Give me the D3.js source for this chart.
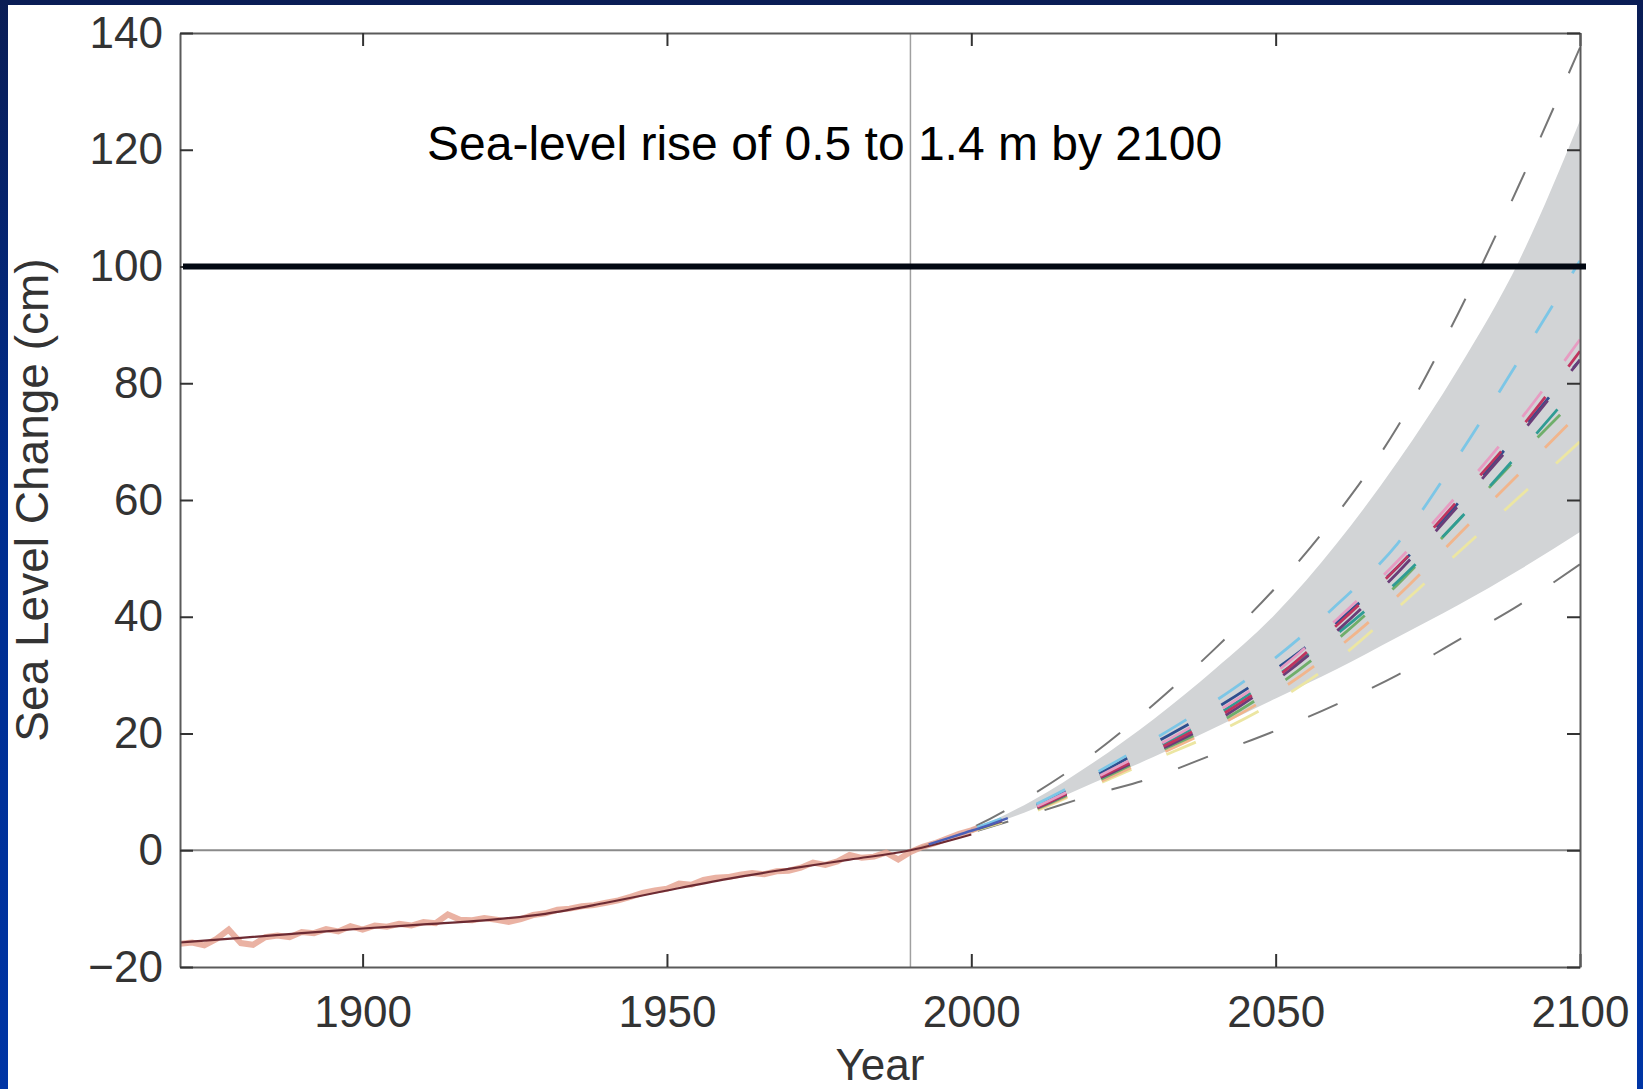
<!DOCTYPE html>
<html>
<head>
<meta charset="utf-8">
<script src="https://cdn.jsdelivr.net/npm/d3@7"></script>
<style>
  body { margin: 0; background: #0030a0; }
  svg { display: block; }
  text { font-family: "Liberation Sans", Arial, Helvetica, sans-serif; }
</style>
</head>
<body>
<svg id="chart" width="1643" height="1089"></svg>
<script>
// ---------- data ----------
const projYears  = [1990, 2000, 2010, 2020, 2030, 2040, 2050, 2060, 2070, 2080, 2090, 2100];
const bandUpper  = [0, 3.5, 8.5, 15, 22.5, 31, 40.5, 52.5, 66.5, 82.5, 101, 125];
const bandLower  = [0, 3.2, 7.0, 11.5, 16, 21, 26, 31, 36.5, 42, 48, 54.5];
const outerUpper = [0, 3.8, 9.5, 16.5, 25, 34.5, 45, 57.5, 72.5, 92, 114, 137.5];
const outerLower = [0, 3.0, 6.2, 9.5, 12.5, 16.5, 20.5, 25, 30, 36, 42, 49];

// scenario projections (cm)
const scenYears = [2000, 2010, 2020, 2030, 2040, 2050, 2060, 2070, 2080, 2090, 2100];
const scenCyan     = [3.6, 7.6, 13, 19, 25.5, 33, 42, 52.5, 67.5, 84, 101];
const scenDarkBlue = [3.5, 7.4, 12.6, 18.3, 24.2, 31, 39, 48.5, 59.5, 71.5, 84];
const scenPink     = [3.5, 7.2, 12.2, 17.6, 23.5, 30.5, 39.5, 49.5, 61, 73.5, 87.5];
const scenCrimson  = [3.5, 7.0, 12, 17, 22.5, 29.5, 38.5, 48.5, 60, 72, 85.5];
const scenPurple   = [3.4, 6.9, 11.8, 16.7, 22, 29, 37.5, 47.5, 59, 71, 84];
const scenTeal     = [3.4, 7.1, 12.2, 17.4, 23, 29.8, 37, 46, 56.5, 68, 80];
const scenGreen    = [3.3, 6.8, 11.5, 16.5, 21.5, 28, 36, 45.5, 56.5, 67.5, 78];
const scenOrange   = [3.3, 6.7, 11.2, 16, 21, 27, 34.5, 43.5, 54, 64.5, 75];
const scenYellow   = [3.2, 6.5, 11, 15.5, 20, 25.5, 32.5, 41.5, 51, 60.5, 70];

// observed sea level (tide gauges), cm
const obsYears = [1870,1872,1874,1876,1878,1880,1882,1884,1886,1888,1890,1892,1894,1896,1898,
  1900,1902,1904,1906,1908,1910,1912,1914,1916,1918,1920,1922,1924,1926,1928,1930,1932,1934,1936,1938,
  1940,1942,1944,1946,1948,1950,1952,1954,1956,1958,1960,1962,1964,1966,1968,1970,1972,1974,1976,1978,
  1980,1982,1984,1986,1988,1990,1992,1994,1996,1998,2000,2001];
const obsValues = [-16.0,-15.8,-16.3,-15.2,-13.6,-15.9,-16.2,-14.9,-14.6,-14.9,-14.0,-14.2,-13.5,-13.9,-13.0,
  -13.6,-12.9,-13.1,-12.6,-12.9,-12.3,-12.5,-11.0,-11.9,-12.0,-11.6,-11.9,-12.3,-11.8,-11.1,-10.8,-10.2,-10.0,-9.6,-9.4,
  -9.0,-8.6,-8.0,-7.3,-6.9,-6.6,-5.7,-5.9,-5.1,-4.7,-4.6,-4.2,-3.9,-4.1,-3.6,-3.5,-3.0,-2.1,-2.5,-1.9,
  -0.8,-1.3,-1.1,-0.4,-1.6,-0.3,0.6,1.2,2.0,2.8,3.4,3.8];

// smoothed record
const smoothYears  = [1870, 1880, 1890, 1900, 1910, 1920, 1930, 1940, 1950, 1960, 1970, 1980, 1990, 2000];
const smoothValues = [-15.8, -15.0, -14.2, -13.4, -12.7, -12.0, -10.9, -9.0, -6.9, -4.9, -3.2, -1.6, 0, 2.7];

// satellite altimetry
const satYears  = [1993, 1996, 1999, 2002, 2006];
const satValues = [1.0, 2.0, 3.0, 4.0, 5.5];

const xTicks = [1900, 1950, 2000, 2050, 2100];
const yTicks = [-20, 0, 20, 40, 60, 80, 100, 120, 140];
const limitLevel = 100;
const baseYear = 1990;

// ---------- drawing ----------
const svg = d3.select('#chart');
const W = 1643, H = 1089;

const defs = svg.append('defs');
const grad = defs.append('linearGradient').attr('id', 'bg').attr('x1', 0).attr('y1', 0).attr('x2', 0).attr('y2', 1);
grad.append('stop').attr('offset', '0%').attr('stop-color', '#0a1d55');
grad.append('stop').attr('offset', '45%').attr('stop-color', '#002d8e');
grad.append('stop').attr('offset', '100%').attr('stop-color', '#0035a5');

svg.append('rect').attr('width', W).attr('height', H).attr('fill', 'url(#bg)');
svg.append('rect').attr('x', 8).attr('y', 5).attr('width', 1629).attr('height', H - 5).attr('fill', '#fff');

const x = d3.scaleLinear().domain([1870, 2100]).range([180, 1580]);
const y = d3.scaleLinear().domain([-20, 140]).range([967, 33]);

defs.append('clipPath').attr('id', 'plot')
  .append('rect').attr('x', x(1870)).attr('y', y(140))
  .attr('width', x(2100) - x(1870)).attr('height', y(-20) - y(140));

const plot = svg.append('g').attr('clip-path', 'url(#plot)');

// projection band
const area = d3.area()
  .x((d, i) => x(projYears[i]))
  .y0((d, i) => y(bandLower[i]))
  .y1(d => y(d))
  .curve(d3.curveMonotoneX);
plot.append('path').datum(bandUpper).attr('d', area).attr('fill', '#d2d4d6');

const line = (xs) => d3.line().x((d, i) => x(xs[i])).y(d => y(d)).curve(d3.curveMonotoneX);

// outer dashed bounds
[outerUpper, outerLower].forEach(s => {
  plot.append('path').datum(s).attr('d', line(projYears))
    .attr('fill', 'none').attr('stroke', '#767676').attr('stroke-width', 2)
    .attr('stroke-dasharray', '32 38');
});

// scenario projections
const scenarios = [
  { values: scenYellow,   color: '#ece6a2' },
  { values: scenOrange,   color: '#f1b58c' },
  { values: scenGreen,    color: '#6fae6a' },
  { values: scenTeal,     color: '#2f9c94' },
  { values: scenDarkBlue, color: '#2f4f8f' },
  { values: scenPurple,   color: '#6a3d78' },
  { values: scenCrimson,  color: '#c0345f' },
  { values: scenPink,     color: '#e79cc2' },
  { values: scenCyan,     color: '#7cc6e6' }
];
scenarios.forEach(s => {
  plot.append('path').datum(s.values).attr('d', line(scenYears))
    .attr('fill', 'none').attr('stroke', s.color).attr('stroke-width', 2.8)
    .attr('stroke-dasharray', '32 38');
});

// reference lines
plot.append('line').attr('x1', x(1870)).attr('x2', x(2100)).attr('y1', y(0)).attr('y2', y(0))
  .attr('stroke', '#8a8a8a').attr('stroke-width', 2);
plot.append('line').attr('x1', x(baseYear)).attr('x2', x(baseYear)).attr('y1', y(-20)).attr('y2', y(140))
  .attr('stroke', '#a0a0a0').attr('stroke-width', 1.5);

// observations
plot.append('path').datum(obsValues).attr('d', line(obsYears).curve(d3.curveLinear))
  .attr('fill', 'none').attr('stroke', '#e6a493').attr('stroke-width', 6).attr('opacity', 0.85);
plot.append('path').datum(smoothValues).attr('d', line(smoothYears))
  .attr('fill', 'none').attr('stroke', '#6d2b33').attr('stroke-width', 2.2);
plot.append('path').datum(satValues).attr('d', line(satYears))
  .attr('fill', 'none').attr('stroke', '#4a5fb8').attr('stroke-width', 2.5);

// axes
const fontSize = 44;
function styleAxis(g, labels) {
  g.select('.domain').attr('stroke', '#5a5a5a').attr('stroke-width', 2);
  g.selectAll('.tick line').attr('stroke', '#333').attr('stroke-width', 2);
  g.selectAll('.tick text').attr('fill', '#333').attr('font-size', fontSize)
    .attr('font-family', '"Liberation Sans", Arial, Helvetica, sans-serif');
  if (!labels) g.selectAll('.tick text').remove();
}
svg.append('g').attr('transform', `translate(0,${y(-20)})`)
  .call(d3.axisBottom(x).tickValues(xTicks).tickSizeInner(-13).tickSizeOuter(0).tickPadding(29).tickFormat(d3.format('d')))
  .call(g => styleAxis(g, true));
svg.append('g').attr('transform', `translate(0,${y(140)})`)
  .call(d3.axisTop(x).tickValues(xTicks).tickSizeInner(-13).tickSizeOuter(0))
  .call(g => styleAxis(g, false));
svg.append('g').attr('transform', `translate(${x(1870)},0)`)
  .call(d3.axisLeft(y).tickValues(yTicks).tickSizeInner(-13).tickSizeOuter(0).tickPadding(17))
  .call(g => styleAxis(g, true));
svg.append('g').attr('transform', `translate(${x(2100)},0)`)
  .call(d3.axisRight(y).tickValues(yTicks).tickSizeInner(-13).tickSizeOuter(0))
  .call(g => styleAxis(g, false));

// axis titles
svg.append('text').attr('x', 880).attr('y', 1080).attr('text-anchor', 'middle')
  .attr('font-size', fontSize).attr('fill', '#333').text('Year');
svg.append('text').attr('transform', `translate(48,${(y(-20) + y(140)) / 2}) rotate(-90)`)
  .attr('text-anchor', 'middle').attr('font-size', 46).attr('fill', '#333')
  .text('Sea Level Change (cm)');

// 1 m line and annotation
svg.append('line').attr('x1', x(1870) + 3).attr('x2', x(2100) + 6)
  .attr('y1', y(limitLevel)).attr('y2', y(limitLevel))
  .attr('stroke', '#020812').attr('stroke-width', 6);
svg.append('text').attr('x', 427).attr('y', 160).attr('font-size', 48).attr('fill', '#000')
  .text('Sea-level rise of 0.5 to 1.4 m by 2100');
</script>
</body>
</html>
